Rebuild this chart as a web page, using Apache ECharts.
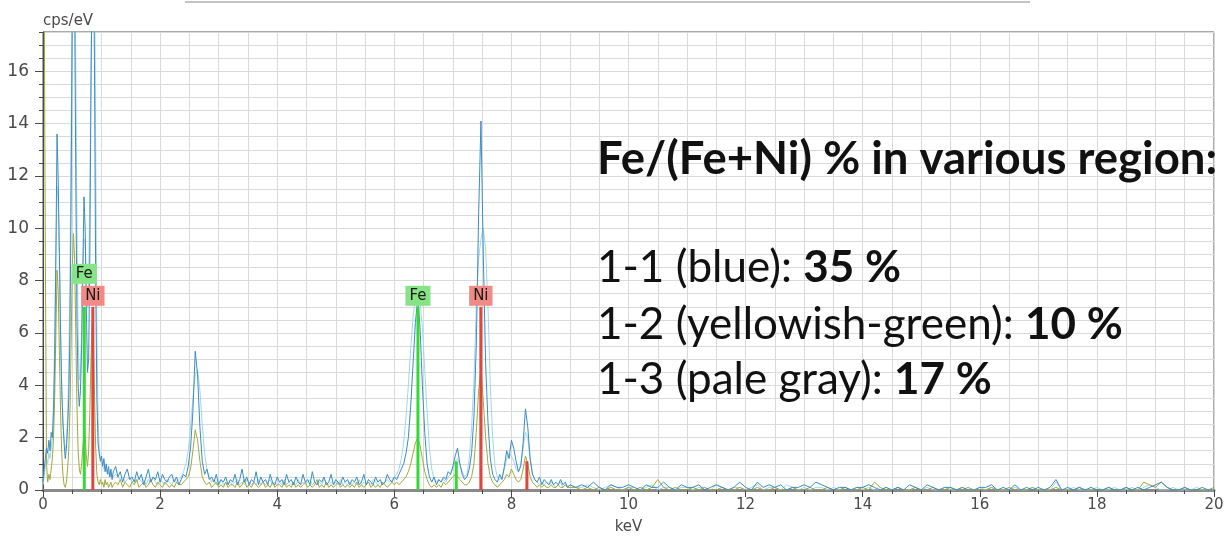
<!DOCTYPE html>
<html>
<head>
<meta charset="utf-8">
<script src="https://cdn.jsdelivr.net/npm/echarts@6/dist/echarts.min.js"></script>
<style>
  html, body { margin: 0; padding: 0; background: #fff; }
  #chart { width: 1228px; height: 540px; }
</style>
</head>
<body>
<div id="chart"></div>
<script>
// EDS spectra (cps/eV vs keV) of three regions, with Fe and Ni line markers.
// Each spectrum is stored in three energy segments with their own channel step.
const segStart = [0, 1.24, 9.1];
const segStep = [0.02, 0.04, 0.1];

// 1-1 (blue region)
const blueLow = [
  0.3, 0.8, 1.2, 1.6, 1.4, 1.9, 1.5, 2.2, 2.0, 3.0,
  5.0, 9.0, 13.6, 11.8, 9.0, 6.0, 3.8, 2.6, 1.8, 1.2,
  1.6, 2.4, 3.5, 6.0, 11.0, 18.5, 22, 19, 12.0, 6.5,
  4.0, 3.2, 3.8, 5.5, 8.5, 11.2, 10.0, 7.0, 4.5, 5.0,
  9.0, 15.5, 20, 22, 16, 8.0, 3.5, 1.8, 1.4, 1.1,
  1.3, 0.9, 1.2, 0.7, 1.0, 0.6, 0.9, 0.5, 0.8, 0.4,
  0.7
];
const blueMid = [
  0.9, 0.5, 0.7, 0.3, 0.6, 0.8, 0.4, 0.5, 0.3, 0.7, 0.4, 0.6, 0.2, 0.5, 0.8, 0.3, 0.5, 0.4, 0.7, 0.3, 0.6, 0.4, 0.3, 0.5, 0.6,
  0.3, 0.5, 0.2, 0.4, 0.6, 0.5, 0.9, 1.6, 3.0, 5.3, 4.4, 2.4, 1.1, 0.6, 0.8, 0.4, 0.5, 0.3, 0.6, 0.2, 0.4, 0.3, 0.5, 0.2, 0.4,
  0.3, 0.6, 0.2, 0.4, 0.8, 0.3, 0.5, 0.2, 0.4, 0.3, 0.7, 0.2, 0.5, 0.3, 0.4, 0.2, 0.6, 0.3, 0.2, 0.5, 0.3, 0.4, 0.2, 0.6, 0.3,
  0.4, 0.2, 0.5, 0.3, 0.2, 0.6, 0.3, 0.4, 0.2, 0.7, 0.3, 0.2, 0.4, 0.3, 0.5, 0.2, 0.3, 0.6, 0.2, 0.4, 0.3, 0.2, 0.5, 0.3, 0.4,
  0.2, 0.4, 0.3, 0.5, 0.2, 0.3, 0.6, 0.2, 0.4, 0.3, 0.2, 0.5, 0.3, 0.4, 0.2, 0.3, 0.6, 0.4, 0.3, 0.5, 0.4, 0.6, 0.8, 1.0, 1.4,
  2.0, 3.2, 4.8, 6.4, 7.3, 6.2, 4.0, 2.2, 1.0, 0.5, 0.3, 0.5, 0.2, 0.4, 0.3, 0.5, 0.4, 0.7, 0.6, 0.9, 1.3, 1.6, 1.0, 0.6, 0.4,
  0.5, 0.8, 1.4, 2.8, 5.5, 10.5, 14.1, 9.0, 4.8, 2.6, 1.2, 0.6, 0.4, 0.3, 0.6, 0.4, 0.9, 1.5, 1.2, 1.9, 1.6, 1.1, 0.7, 0.9, 1.8,
  3.1, 2.4, 1.2, 0.6, 0.4, 0.3, 0.5, 0.2, 0.4, 0.3, 0.2, 0.4, 0.2, 0.3, 0.2, 0.4, 0.2, 0.3, 0.1, 0.2
];
const blueHigh = [
  0.1, 0.2, 0.1, 0.3, 0.1, 0.0, 0.2, 0.1, 0.1, 0.2,
  0.1, 0.0, 0.2, 0.1, 0.1, 0.3, 0.1, 0.0, 0.2, 0.1,
  0.1, 0.2, 0.0, 0.1, 0.2, 0.1, 0.0, 0.1, 0.3, 0.1,
  0.0, 0.3, 0.1, 0.2, 0.1, 0.2, 0.0, 0.1, 0.1, 0.2,
  0.1, 0.3, 0.2, 0.1, 0.0, 0.1, 0.1, 0.0, 0.1, 0.1,
  0.2, 0.1, 0.0, 0.1, 0.0, 0.1, 0.0, 0.2, 0.1, 0.0,
  0.2, 0.1, 0.0, 0.1, 0.1, 0.0, 0.1, 0.0, 0.0, 0.1,
  0.1, 0.2, 0.0, 0.1, 0.0, 0.2, 0.0, 0.1, 0.0, 0.1,
  0.0, 0.1, 0.4, 0.0, 0.1, 0.0, 0.1, 0.0, 0.1, 0.0,
  0.0, 0.1, 0.0, 0.0, 0.1, 0.0, 0.1, 0.0, 0.1, 0.2,
  0.3, 0.1, 0.0, 0.0, 0.1, 0.0, 0.0, 0.1, 0.0, 0.0
];

// 1-2 (yellowish-green region)
const greenLow = [
  30, 30, 9, 1.0, 0.3, 0.6, 0.4, 0.8, 1.2, 2.0,
  3.6, 6.0, 8.4, 7.6, 5.2, 3.0, 1.4, 0.6, 0.2, 0.1,
  0.3, 0.8, 1.5, 3.0, 5.5, 8.5, 9.8, 8.8, 6.0, 3.2,
  1.5, 0.8, 0.6, 1.0, 1.6, 2.2, 2.0, 1.3, 0.9, 1.5,
  3.0, 5.0, 6.4, 5.8, 3.6, 1.6, 0.6, 0.3, 0.2, 0.4,
  0.2, 0.3, 0.1, 0.4, 0.2, 0.3, 0.1, 0.2, 0.3, 0.1,
  0.2
];
const greenMid = [
  0.3, 0.2, 0.4, 0.1, 0.3, 0.2, 0.1, 0.3, 0.2, 0.4, 0.1, 0.2, 0.3, 0.1, 0.2, 0.4, 0.2, 0.1, 0.3, 0.2, 0.1, 0.3, 0.2, 0.1, 0.2,
  0.1, 0.3, 0.2, 0.2, 0.3, 0.4, 0.5, 0.8, 1.5, 2.3, 1.9, 1.1, 0.5, 0.3, 0.2, 0.3, 0.1, 0.2, 0.3, 0.1, 0.2, 0.1, 0.3, 0.1, 0.2,
  0.2, 0.1, 0.3, 0.1, 0.2, 0.4, 0.1, 0.2, 0.1, 0.3, 0.2, 0.1, 0.2, 0.3, 0.1, 0.2, 0.1, 0.3, 0.1, 0.2, 0.2, 0.1, 0.3, 0.1, 0.2,
  0.1, 0.3, 0.1, 0.2, 0.1, 0.2, 0.3, 0.1, 0.2, 0.1, 0.2, 0.4, 0.1, 0.2, 0.1, 0.3, 0.1, 0.2, 0.1, 0.2, 0.3, 0.1, 0.2, 0.1, 0.2,
  0.1, 0.2, 0.1, 0.3, 0.1, 0.2, 0.1, 0.2, 0.3, 0.1, 0.2, 0.1, 0.2, 0.1, 0.3, 0.2, 0.1, 0.2, 0.3, 0.2, 0.3, 0.2, 0.3, 0.4, 0.5,
  0.7, 1.0, 1.4, 1.8, 2.0, 1.7, 1.2, 0.7, 0.4, 0.2, 0.1, 0.2, 0.1, 0.2, 0.1, 0.3, 0.2, 0.3, 0.4, 0.5, 0.6, 0.5, 0.4, 0.3, 0.2,
  0.2, 0.3, 0.5, 1.0, 2.2, 3.8, 4.6, 3.4, 2.0, 1.0, 0.5, 0.3, 0.2, 0.1, 0.2, 0.3, 0.4, 0.6, 0.5, 0.8, 0.6, 0.4, 0.3, 0.4, 0.8,
  1.3, 1.0, 0.5, 0.3, 0.2, 0.1, 0.2, 0.1, 0.2, 0.1, 0.1, 0.2, 0.1, 0.1, 0.2, 0.1, 0.1, 0.2, 0.1, 0.1
];
const greenHigh = [
  0.1, 0.0, 0.1, 0.0, 0.1, 0.0, 0.1, 0.0, 0.0, 0.1,
  0.0, 0.1, 0.0, 0.1, 0.4, 0.1, 0.0, 0.1, 0.0, 0.0,
  0.1, 0.0, 0.1, 0.0, 0.0, 0.1, 0.0, 0.0, 0.1, 0.0,
  0.0, 0.1, 0.0, 0.0, 0.1, 0.0, 0.0, 0.1, 0.0, 0.0,
  0.1, 0.0, 0.0, 0.1, 0.0, 0.0, 0.1, 0.0, 0.0, 0.1,
  0.0, 0.3, 0.1, 0.0, 0.0, 0.1, 0.0, 0.0, 0.1, 0.0,
  0.0, 0.1, 0.0, 0.0, 0.1, 0.0, 0.0, 0.1, 0.0, 0.0,
  0.0, 0.1, 0.0, 0.0, 0.1, 0.0, 0.0, 0.0, 0.1, 0.0,
  0.0, 0.0, 0.1, 0.0, 0.0, 0.0, 0.1, 0.0, 0.0, 0.0,
  0.0, 0.1, 0.0, 0.0, 0.1, 0.0, 0.0, 0.3, 0.2, 0.1,
  0.3, 0.1, 0.0, 0.0, 0.1, 0.0, 0.0, 0.0, 0.0, 0.1
];

// 1-3 (pale gray region)
const paleLow = [
  0.2, 0.5, 0.9, 1.2, 1.0, 1.4, 1.2, 1.6, 2.0, 3.4,
  6.0, 9.0, 11.6, 11.0, 8.8, 6.0, 4.0, 2.6, 2.0, 1.5,
  1.8, 2.8, 4.6, 8.0, 13.5, 19, 22, 21, 16, 10,
  6.0, 4.2, 4.5, 6.2, 8.2, 9.6, 9.4, 8.0, 7.0, 8.0,
  11.5, 16, 20, 22, 20, 13, 6.0, 2.8, 1.6, 1.2,
  1.0, 0.9, 0.8, 0.9, 0.7, 0.8, 0.6, 0.7, 0.5, 0.6,
  0.5
];
const paleMid = [
  0.6, 0.5, 0.4, 0.5, 0.3, 0.4, 0.5, 0.3, 0.4, 0.3, 0.5, 0.3, 0.4, 0.2, 0.4, 0.3, 0.5, 0.3, 0.2, 0.4, 0.3, 0.2, 0.4, 0.3, 0.2,
  0.4, 0.3, 0.4, 0.5, 0.7, 1.0, 1.5, 2.4, 3.5, 4.4, 4.6, 3.8, 2.5, 1.4, 0.8, 0.5, 0.3, 0.4, 0.2, 0.3, 0.4, 0.2, 0.3, 0.2, 0.3,
  0.2, 0.3, 0.4, 0.2, 0.3, 0.2, 0.4, 0.3, 0.2, 0.3, 0.2, 0.4, 0.2, 0.3, 0.2, 0.3, 0.4, 0.2, 0.3, 0.2, 0.3, 0.2, 0.4, 0.2, 0.3,
  0.2, 0.3, 0.2, 0.4, 0.2, 0.3, 0.2, 0.3, 0.4, 0.2, 0.3, 0.2, 0.3, 0.2, 0.4, 0.3, 0.2, 0.3, 0.2, 0.3, 0.2, 0.4, 0.2, 0.3, 0.2,
  0.3, 0.2, 0.3, 0.2, 0.4, 0.2, 0.3, 0.2, 0.3, 0.2, 0.4, 0.3, 0.2, 0.3, 0.2, 0.3, 0.4, 0.3, 0.4, 0.5, 0.6, 0.8, 1.2, 1.8, 2.8,
  4.0, 5.4, 6.6, 7.4, 7.6, 7.2, 6.2, 4.6, 3.0, 1.6, 0.8, 0.4, 0.3, 0.4, 0.3, 0.4, 0.3, 0.5, 0.6, 0.8, 1.1, 1.2, 1.0, 0.7, 0.5,
  0.6, 1.2, 2.4, 4.2, 7.0, 8.8, 9.6, 10.0, 9.2, 7.0, 4.0, 2.0, 0.9, 0.5, 0.4, 0.5, 0.8, 1.2, 1.4, 1.3, 1.1, 0.8, 0.7, 1.0, 1.6,
  2.2, 2.0, 1.2, 0.6, 0.4, 0.3, 0.2, 0.3, 0.2, 0.3, 0.2, 0.3, 0.2, 0.1, 0.2, 0.3, 0.1, 0.2, 0.1, 0.2
];
const paleHigh = [
  0.1, 0.1, 0.2, 0.1, 0.0, 0.1, 0.2, 0.1, 0.0, 0.1,
  0.1, 0.0, 0.1, 0.2, 0.0, 0.1, 0.1, 0.0, 0.1, 0.1,
  0.0, 0.1, 0.1, 0.0, 0.2, 0.1, 0.0, 0.1, 0.1, 0.0,
  0.1, 0.2, 0.0, 0.1, 0.1, 0.0, 0.2, 0.1, 0.0, 0.1,
  0.0, 0.1, 0.1, 0.0, 0.1, 0.0, 0.1, 0.0, 0.1, 0.0,
  0.1, 0.0, 0.0, 0.1, 0.0, 0.1, 0.0, 0.0, 0.1, 0.0,
  0.1, 0.0, 0.0, 0.1, 0.0, 0.0, 0.1, 0.0, 0.0, 0.1,
  0.0, 0.1, 0.0, 0.0, 0.0, 0.1, 0.0, 0.0, 0.1, 0.0,
  0.0, 0.0, 0.3, 0.0, 0.0, 0.1, 0.0, 0.0, 0.0, 0.1,
  0.0, 0.0, 0.1, 0.0, 0.0, 0.1, 0.0, 0.1, 0.2, 0.1,
  0.0, 0.0, 0.1, 0.0, 0.0, 0.0, 0.1, 0.0, 0.0, 0.0
];

// Element line markers: [energy keV, marker height]
const feLines = [[0.705, 7.0], [6.404, 7.0], [7.058, 1.1]];
const niLines = [[0.851, 7.0], [7.478, 7.0], [8.265, 1.1]];

// Summary text
const summaryTitle = 'Fe/(Fe+Ni) % in various region:';
const regionNames = ['1-1 (blue): ', '1-2 (yellowish-green): ', '1-3 (pale gray): '];
const regionFePct = ['35 %', '10 %', '17 %'];

function spectrum(parts) {
  const pts = [];
  parts.forEach((vals, k) => {
    vals.forEach((v, i) => {
      pts.push([+(segStart[k] + i * segStep[k]).toFixed(3), v]);
    });
  });
  return pts;
}

const labelFont = 'DejaVu Sans';
const gridColor = '#dadada';
const axisColor = '#4a4a4a';

function markerSeries(name, lines, color, boxColor, firstOffset) {
  return {
    type: 'bar',
    name: name,
    barWidth: 3,
    barGap: '-100%',
    z: 5,
    itemStyle: { color: color },
    data: lines.map((d, i) => ({
      value: d,
      label: {
        show: d[1] > 5,
        offset: i === 0 ? firstOffset : [0, 0]
      }
    })),
    label: {
      position: 'top',
      distance: 1,
      formatter: name,
      backgroundColor: boxColor,
      color: '#1a1a1a',
      fontFamily: labelFont,
      fontSize: 15,
      lineHeight: 17,
      padding: [2, 4, 1, 4]
    }
  };
}

const lineStyleBase = { width: 1 };
const chart = echarts.init(document.getElementById('chart'), null, { renderer: 'canvas' });

// Summary block, laid out as title components
const textFont = 'Lato';
const titleSize = 45.5;
const textSize = 44;
const blockLineHeight = 50;
const summaryY = [268, 325, 380];

function textBlock(y, text, size, weight) {
  return {
    text: text,
    left: 597,
    top: y - blockLineHeight / 2,
    padding: 0,
    textStyle: {
      fontFamily: textFont,
      fontSize: size,
      fontWeight: weight,
      color: '#111',
      lineHeight: blockLineHeight,
      rich: {
        b: { fontFamily: textFont, fontSize: size, fontWeight: 'bold', color: '#111', lineHeight: blockLineHeight }
      }
    }
  };
}

chart.setOption({
  animation: false,
  backgroundColor: '#ffffff',
  title: [textBlock(159, summaryTitle, titleSize, 'bold')].concat(
    regionNames.map((nm, i) => textBlock(summaryY[i], nm + '{b|' + regionFePct[i] + '}', textSize, 'normal'))
  ),
  grid: {
    left: 43, right: 14, top: 32, bottom: 50,
    show: true, borderColor: '#555', borderWidth: 1
  },
  xAxis: [
    {
      type: 'value', min: 0, max: 20, interval: 2,
      axisLine: { show: true, onZero: false, lineStyle: { color: axisColor } },
      axisTick: { show: true, length: 7, lineStyle: { color: axisColor } },
      minorTick: { show: true, splitNumber: 4, length: 4, lineStyle: { color: axisColor } },
      splitLine: { show: true, lineStyle: { color: gridColor } },
      minorSplitLine: { show: true, lineStyle: { color: gridColor } },
      axisLabel: { margin: 8, fontFamily: labelFont, fontSize: 15, color: axisColor },
      name: 'keV', nameLocation: 'middle', nameGap: 30,
      nameTextStyle: { fontFamily: labelFont, fontSize: 15, color: axisColor }
    },
    {
      type: 'value', min: 0, max: 20, position: 'top',
      axisLine: { show: true, lineStyle: { color: '#8a8a8a', width: 3 } },
      axisTick: { show: false }, axisLabel: { show: false }, splitLine: { show: false }
    }
  ],
  yAxis: [
    {
      type: 'value', min: 0, max: 17.5, interval: 2, position: 'left',
      axisLine: { show: true, onZero: false, lineStyle: { color: axisColor } },
      axisTick: { show: true, length: 8, lineStyle: { color: axisColor } },
      axisLabel: { showMaxLabel: false, margin: 14, fontFamily: labelFont, fontSize: 17, color: axisColor },
      splitLine: { show: false },
      name: 'cps/eV', nameLocation: 'end', nameGap: 3,
      nameTextStyle: { align: 'left', fontFamily: labelFont, fontSize: 15, color: axisColor }
    },
    {
      type: 'value', min: 0, max: 17.5, interval: 0.5, position: 'left',
      axisLine: { show: false },
      axisTick: { show: true, length: 4, lineStyle: { color: axisColor } },
      axisLabel: { show: false },
      splitLine: { show: true, lineStyle: { color: gridColor } }
    }
  ],
  series: [
    {
      type: 'line', name: '1-3', showSymbol: false, symbol: 'none', z: 2,
      lineStyle: Object.assign({ color: '#a3d5ea' }, lineStyleBase),
      data: spectrum([paleLow, paleMid, paleHigh])
    },
    {
      type: 'line', name: '1-2', showSymbol: false, symbol: 'none', z: 3,
      lineStyle: Object.assign({ color: '#a0a83c' }, lineStyleBase),
      data: spectrum([greenLow, greenMid, greenHigh])
    },
    {
      type: 'line', name: '1-1', showSymbol: false, symbol: 'none', z: 4,
      lineStyle: Object.assign({ color: '#3a8dc2' }, lineStyleBase),
      data: spectrum([blueLow, blueMid, blueHigh])
    },
    markerSeries('Fe', feLines, '#35d935', '#86e386', [0, -22]),
    markerSeries('Ni', niLines, '#e2453c', '#f08a84', [0, 0])
  ],
  graphic: [
    {
      type: 'line', silent: true,
      shape: { x1: 185, y1: 2, x2: 1030, y2: 2 },
      style: { stroke: '#c4c4c4', lineWidth: 2 }
    }
  ]
});
</script>
</body>
</html>
